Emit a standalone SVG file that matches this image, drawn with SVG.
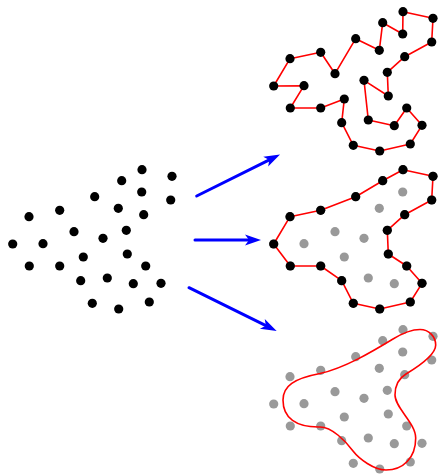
<svg xmlns="http://www.w3.org/2000/svg" xmlns:xlink="http://www.w3.org/1999/xlink" width="438" height="474" viewBox="0 0 438 474">
<style>
.b{fill:#000}
.g{fill:#999}
.tour{fill:none;stroke:#f00;stroke-width:1.6;stroke-linejoin:round}
.arr{stroke:#00f;stroke-width:3;stroke-linecap:round;fill:none}
</style>
<defs>
<marker id="ah" markerUnits="userSpaceOnUse" markerWidth="20" markerHeight="14" viewBox="-1 -7 20 14" refX="4" refY="0" orient="auto">
<path d="M0,-5.5 L16,0 L0,5.5 L4,0 Z" fill="#00f"/>
</marker>
<g id="pts">
<circle cx="142" cy="169.7" r="4.6"/><circle cx="172" cy="176.3" r="4.6"/><circle cx="121.7" cy="180.7" r="4.6"/>
<circle cx="141.7" cy="192" r="4.6"/><circle cx="170.7" cy="200" r="4.6"/><circle cx="94.7" cy="196.7" r="4.6"/>
<circle cx="59.7" cy="210.3" r="4.6"/><circle cx="118.3" cy="208.3" r="4.6"/><circle cx="143.7" cy="214.7" r="4.6"/>
<circle cx="29" cy="216.7" r="4.6"/><circle cx="74" cy="231.7" r="4.6"/><circle cx="126.3" cy="230.3" r="4.6"/>
<circle cx="103" cy="238.3" r="4.6"/><circle cx="12.7" cy="244" r="4.6"/><circle cx="43" cy="243.7" r="4.6"/>
<circle cx="83.3" cy="257" r="4.6"/><circle cx="127.3" cy="254" r="4.6"/><circle cx="29.3" cy="266" r="4.6"/>
<circle cx="59.7" cy="266" r="4.6"/><circle cx="145.7" cy="266" r="4.6"/><circle cx="80.7" cy="280.7" r="4.6"/>
<circle cx="107.3" cy="278" r="4.6"/><circle cx="133.3" cy="283.7" r="4.6"/><circle cx="161" cy="283.3" r="4.6"/>
<circle cx="92.3" cy="303.3" r="4.6"/><circle cx="118.7" cy="309" r="4.6"/><circle cx="149.3" cy="302" r="4.6"/>
</g>
</defs>

<g id="input-points" class="b">
<use xlink:href="#pts"/>
</g>

<g id="connectors">
<line class="arr" x1="196.7" y1="196" x2="269.3" y2="159.9" marker-end="url(#ah)"/>
<line class="arr" x1="195" y1="240" x2="249" y2="240" marker-end="url(#ah)"/>
<line class="arr" x1="189" y1="287.7" x2="265.9" y2="325.7" marker-end="url(#ah)"/>
</g>

<g id="tour-panel" transform="translate(261,-158)">
<polygon class="tour" points="142,169.7 172,176.3 170.7,200 143.7,214.7 126.3,230.3 127.3,254 103,238.3 107.3,278 133.3,283.7 145.7,266 161,283.3 149.3,302 118.7,309 92.3,303.3 80.7,280.7 83.3,257 59.7,266 29.3,266 43,243.7 12.7,244 29,216.7 59.7,210.3 74,231.7 94.7,196.7 118.3,208.3 121.7,180.7 141.7,192"/>
<g class="b"><use xlink:href="#pts"/></g>
</g>

<g id="hull-panel" transform="translate(261,0)">
<g class="g"><use xlink:href="#pts"/></g>
<polygon class="tour" points="142,169.7 172,176.3 170.7,200 143.7,214.7 126.3,230.3 127.3,254 145.7,266 161,283.3 149.3,302 118.7,309 92.3,303.3 80.7,280.7 59.7,266 29.3,266 12.7,244 29,216.7 59.7,210.3 94.7,196.7 121.7,180.7"/>
<g class="b">
<circle cx="142" cy="169.7" r="4.6"/><circle cx="172" cy="176.3" r="4.6"/><circle cx="170.7" cy="200" r="4.6"/>
<circle cx="143.7" cy="214.7" r="4.6"/><circle cx="126.3" cy="230.3" r="4.6"/><circle cx="127.3" cy="254" r="4.6"/>
<circle cx="145.7" cy="266" r="4.6"/><circle cx="161" cy="283.3" r="4.6"/><circle cx="149.3" cy="302" r="4.6"/>
<circle cx="118.7" cy="309" r="4.6"/><circle cx="92.3" cy="303.3" r="4.6"/><circle cx="80.7" cy="280.7" r="4.6"/>
<circle cx="59.7" cy="266" r="4.6"/><circle cx="29.3" cy="266" r="4.6"/><circle cx="12.7" cy="244" r="4.6"/>
<circle cx="29" cy="216.7" r="4.6"/><circle cx="59.7" cy="210.3" r="4.6"/><circle cx="94.7" cy="196.7" r="4.6"/>
<circle cx="121.7" cy="180.7" r="4.6"/>
</g>
</g>

<g id="shape-panel">
<g class="g" transform="translate(261,160)"><use xlink:href="#pts"/></g>
<path class="tour" d="M283,400 C283,386 294,378.5 320,373.5 C344.4,368.1 371.6,352 393,339 C400.7,334.3 411,329.5 420,329.5 C429,329.5 435.7,336.5 435.7,345 C435.7,355 416.3,367.8 406,374 C399.1,378.1 395,386 395,395 C395,408 415.7,423 415.7,438 C415.7,458 403,470 386,470 C374,470 359.1,458.9 353,451 C345.5,441 332,427 320,427 C296,427.5 283,418 283,400 Z"/>
</g>
</svg>
